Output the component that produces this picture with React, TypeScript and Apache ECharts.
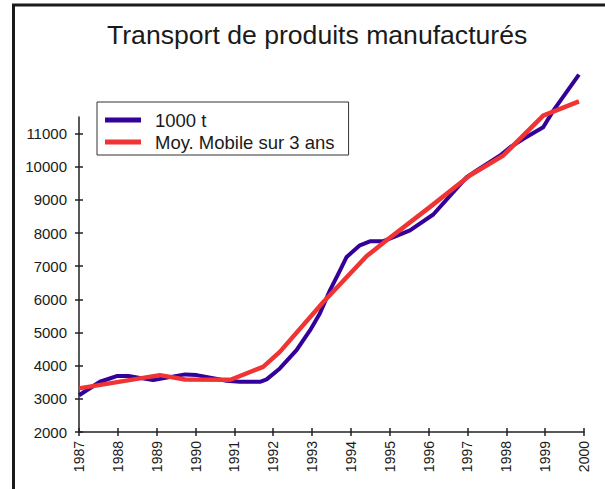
import React, { useEffect, useRef } from "react";
import * as echarts from "echarts";

const TITLE = "Transport de produits manufacturés";
const SERIES_NAMES = ["1000 t", "Moy. Mobile sur 3 ans"];
const xTicks = [1987, 1988, 1989, 1990, 1991, 1992, 1993, 1994, 1995, 1996, 1997, 1998, 1999, 2000];
const yTicks = [2000, 3000, 4000, 5000, 6000, 7000, 8000, 9000, 10000, 11000];

const tonnesX = [1987.0, 1987.54, 1987.97, 1988.27, 1988.91, 1989.73, 1990.03, 1990.8, 1991.14, 1991.66, 1991.83, 1992.17, 1992.6, 1992.95, 1993.2, 1993.46, 1993.72, 1993.89, 1994.23, 1994.49, 1994.82, 1995.0, 1995.52, 1996.12, 1996.98, 1997.24, 1997.84, 1998.1, 1998.44, 1998.95, 1999.21, 1999.87];
const tonnesY = [3110, 3515, 3686, 3686, 3565, 3737, 3716, 3545, 3515, 3515, 3586, 3917, 4468, 5070, 5573, 6274, 6876, 7280, 7630, 7750, 7750, 7830, 8080, 8560, 9685, 9887, 10338, 10588, 10841, 11190, 11693, 12777];

const avgX = [1987.0, 1989.08, 1989.73, 1990.9, 1991.74, 1992.17, 1993.29, 1994.4, 1994.92, 1996.03, 1997.06, 1997.92, 1998.95, 1999.87];
const avgY = [3315, 3716, 3586, 3575, 3966, 4417, 5920, 7300, 7780, 8782, 9736, 10338, 11542, 11973];

const FONT = '"Liberation Sans", Arial, Helvetica, sans-serif';
const AXIS_COLOR = "#222222";

export default function App() {
  const ref = useRef<HTMLDivElement>(null);

  useEffect(() => {
    if (!ref.current) return;
    const chart = echarts.init(ref.current, undefined, { renderer: "svg" });
    const pairs = (xs: number[], ys: number[]) => xs.map((x, i) => [x, ys[i]]);

    const baseX = {
      type: "value",
      min: xTicks[0],
      max: xTicks[xTicks.length - 1],
      interval: 1,
      position: "bottom",
      splitLine: { show: false },
    };
    const baseY = {
      type: "value",
      min: 2000,
      max: 11500,
      interval: 1000,
      position: "left",
      splitLine: { show: false },
    };

    chart.setOption({
      animation: false,
      backgroundColor: "#ffffff",
      textStyle: { fontFamily: FONT },
      title: {
        text: TITLE,
        left: 107,
        top: 21,
        padding: 0,
        textStyle: { fontFamily: FONT, fontSize: 26.6, fontWeight: "normal", color: "#1a1a1a" },
      },
      legend: {
        orient: "vertical",
        left: 97,
        top: 102,
        padding: [8, 14, 3, 8],
        itemGap: 2,
        itemWidth: 36,
        itemHeight: 5,
        icon: "rect",
        borderColor: "#333333",
        borderWidth: 1,
        backgroundColor: "#ffffff",
        data: SERIES_NAMES,
        textStyle: { fontFamily: FONT, fontSize: 18.5, color: "#1a1a1a", lineHeight: 20, padding: [0, 0, 0, 9] },
      },
      grid: { left: 79, right: 21, top: 117, bottom: 57 },
      xAxis: [
        {
          ...baseX,
          axisLine: { show: true, lineStyle: { color: AXIS_COLOR, width: 1.5 } },
          axisTick: { show: true, length: 4, lineStyle: { color: AXIS_COLOR, width: 1.5 } },
          axisLabel: {
            rotate: 90,
            margin: 9,
            fontSize: 14,
            color: "#1a1a1a",
            fontFamily: FONT,
            formatter: (v: number) => String(v),
          },
        },
        {
          ...baseX,
          axisLine: { show: false },
          axisTick: { show: true, inside: true, length: 4, lineStyle: { color: AXIS_COLOR, width: 1.5 } },
          axisLabel: { show: false },
        },
      ],
      yAxis: [
        {
          ...baseY,
          axisLine: { show: true, lineStyle: { color: AXIS_COLOR, width: 1.5 } },
          axisTick: { show: true, length: 4, customValues: yTicks, lineStyle: { color: AXIS_COLOR, width: 1.5 } },
          axisLabel: {
            margin: 12,
            fontSize: 15,
            color: "#1a1a1a",
            fontFamily: FONT,
            customValues: yTicks,
            formatter: (v: number) => String(v),
          },
        },
        {
          ...baseY,
          axisLine: { show: false },
          axisTick: { show: true, inside: true, length: 4, customValues: yTicks, lineStyle: { color: AXIS_COLOR, width: 1.5 } },
          axisLabel: { show: false },
        },
      ],
      graphic: [
        {
          type: "rect",
          shape: { x: 13.5, y: 5, width: 700, height: 700 },
          style: { fill: "none", stroke: "#1a1a1a", lineWidth: 3 },
          silent: true,
          z: 100,
        },
      ],
      series: [
        {
          name: SERIES_NAMES[0],
          type: "line",
          data: pairs(tonnesX, tonnesY),
          symbol: "none",
          clip: false,
          color: "#330099",
          lineStyle: { color: "#330099", width: 4, join: "round" },
          z: 2,
        },
        {
          name: SERIES_NAMES[1],
          type: "line",
          data: pairs(avgX, avgY),
          symbol: "none",
          clip: false,
          color: "#f03434",
          lineStyle: { color: "#f03434", width: 4.5, join: "round" },
          z: 3,
        },
      ],
    });
    return () => chart.dispose();
  }, []);

  return (
    <div
      ref={ref}
      style={{ position: "absolute", left: 0, top: 0, width: 605, height: 489 }}
    />
  );
}
